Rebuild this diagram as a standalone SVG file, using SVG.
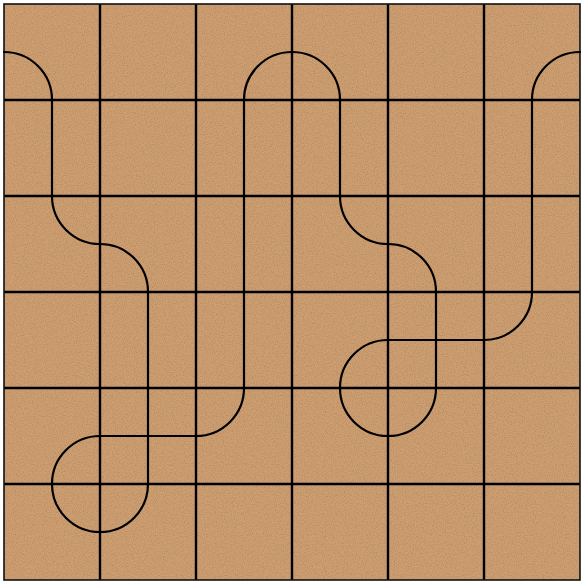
<svg xmlns="http://www.w3.org/2000/svg" width="581" height="581" viewBox="0 0 581 581">
  <style>
    .grid { stroke: #000; stroke-width: 2.4; fill: none; }
    .border { stroke: #111; stroke-width: 1.6; fill: none; }
    .track { stroke: #000; stroke-width: 2.2; fill: none; stroke-linecap: round; stroke-linejoin: round; }
  </style>
  <defs>
    <filter id="grain" x="0" y="0" width="100%" height="100%">
      <feTurbulence type="fractalNoise" baseFrequency="0.9" numOctaves="2" seed="3" result="n"/>
      <feColorMatrix in="n" type="matrix" values="0 0 0 0 0.35  0 0 0 0 0.22  0 0 0 0 0.1  0 0 0 1.4 -0.55" result="speck"/>
      <feComposite in="speck" in2="SourceGraphic" operator="in" result="s"/>
      <feMerge><feMergeNode in="SourceGraphic"/><feMergeNode in="s"/></feMerge>
    </filter>
  </defs>
  <rect x="0" y="0" width="581" height="581" fill="#ffffff"/>
  <rect id="board" x="4" y="4" width="576" height="576" fill="#cf9f72" filter="url(#grain)"/>
  <g id="grid">
    <path class="grid" d="M100 4V580M196 4V580M292 4V580M388 4V580M484 4V580M4 100H580M4 196H580M4 292H580M4 388H580M4 484H580"/>
    <rect class="border" x="4" y="4" width="576" height="576"/>
  </g>
  <g id="track">
    <path class="track" d="M4 52 A48 48 0 0 1 52 100 L52 196 A48 48 0 0 0 100 244 A48 48 0 0 1 148 292 L148 484 A48 48 0 0 1 100 532 A48 48 0 0 1 52 484 A48 48 0 0 1 100 436 L196 436 A48 48 0 0 0 244 388 L244 100 A48 48 0 0 1 292 52 A48 48 0 0 1 340 100 L340 196 A48 48 0 0 0 388 244 A48 48 0 0 1 436 292 L436 388 A48 48 0 0 1 388 436 A48 48 0 0 1 340 388 A48 48 0 0 1 388 340 L484 340 A48 48 0 0 0 532 292 L532 100 A48 48 0 0 1 580 52"/>
  </g>
</svg>
